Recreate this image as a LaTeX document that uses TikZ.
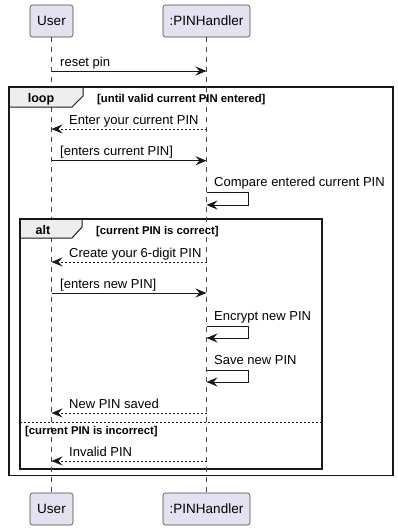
\documentclass[tikz,border=0pt]{standalone}
\usepackage{fontspec}
\setmainfont{Liberation Sans}
\usetikzlibrary{arrows.meta}
\definecolor{ink}{HTML}{181818}
\definecolor{partfill}{HTML}{E2E2F0}
\definecolor{tabfill}{HTML}{EEEEEE}
\begin{document}
\begin{tikzpicture}[x=1pt,y=-1pt,
  participant/.style={draw=ink!80, line width=0.6pt, fill=partfill, rounded corners=2.5pt,
    minimum height=32pt, inner sep=0pt, font=\fontsize{13.5}{15}\selectfont},
  lifeline/.style={draw=ink!80, line width=0.5pt, dash pattern=on 5pt off 5pt},
  msg/.style={draw=ink, line width=0.9pt, -{Stealth[length=11pt,width=9pt,inset=4pt]}},
  reply/.style={msg, dash pattern=on 2pt off 2pt},
  frame/.style={draw=ink, line width=1.4pt},
  tab/.style={draw=ink, line width=1pt, fill=tabfill},
  msgtext/.style={anchor=base west, inner sep=0pt, font=\fontsize{13}{15}\selectfont},
  guard/.style={anchor=base west, inner sep=0pt, font=\fontsize{11.3}{13}\selectfont\bfseries},
  kw/.style={anchor=base, inner sep=0pt, font=\fontsize{12.5}{14}\selectfont\bfseries}]
\useasboundingbox (0,0) rectangle (398,530);
\fill[white] (0,0) rectangle (398,530);

% participants, top and bottom
\node[participant, minimum width=43pt] (userTop) at (51.5,21) {User};
\node[participant, minimum width=87pt] (pinTop) at (206.5,21) {:PINHandler};
\node[participant, minimum width=43pt] (userBot) at (51.5,509) {User};
\node[participant, minimum width=87pt] (pinBot) at (206.5,509) {:PINHandler};

% lifeline anchor points for each message
\foreach \n/\y in {a/71, b/129, c/160.7, d/262, e/293, f/413, g/461}{
  \coordinate (u\n) at (51.5,\y);
  \coordinate (p\n) at (206.5,\y);
}
\foreach \n/\ya/\yb in {s1/192/205, s2/326/338, s3/370/382}{
  \coordinate (\n a) at (206.5,\ya);
  \coordinate (\n b) at (206.5,\yb);
}

% fragment borders
\draw[frame] (9,87) rectangle (393,475.5);
\draw[frame] (20,219) rectangle (322,469);
\draw[draw=ink, line width=0.6pt, dash pattern=on 2pt off 2pt] (20,422) -- (322,422);

% lifelines
\draw[lifeline] (userTop.south) -- (userBot.north);
\draw[lifeline] (pinTop.south) -- (pinBot.north);

% fragment tabs and guards
\draw[tab] (9,87) -- (83,87) -- (83,96) -- (72,107) -- (9,107) -- cycle;
\draw[frame] (9,87) -- (83,87);
\draw[frame] (9,87) -- (9,107);
\node[kw] (loopkw) at (41,102) {loop};
\node[guard] (loopguard) at (97,102) {[until valid current PIN entered]};

\draw[tab] (20,219) -- (82,219) -- (82,227) -- (72,238) -- (20,238) -- cycle;
\draw[frame] (20,219) -- (82,219);
\draw[frame] (20,219) -- (20,238);
\node[kw] (altkw) at (43,234) {alt};
\node[guard] (altguard) at (96,234) {[current PIN is correct]};
\node[guard] (elseguard) at (25,434.5) {[current PIN is incorrect]};

% messages
\draw[msg] (ua) -- (pa);
\node[msgtext] (ta) at (60,66) {reset pin};

\draw[reply] (pb) -- (ub);
\node[msgtext] (tb) at (69,124) {Enter your current PIN};

\draw[msg] (uc) -- (pc);
\node[msgtext] (tc) at (60,155.7) {[enters current PIN]};

\draw[msg] (s1a) -- ++(41.5,0) |- (s1b);
\node[msgtext] (ts1) at (214,186.5) {Compare entered current PIN};

\draw[reply] (pd) -- (ud);
\node[msgtext] (td) at (69,257) {Create your 6-digit PIN};

\draw[msg] (ue) -- (pe);
\node[msgtext] (te) at (60,288) {[enters new PIN]};

\draw[msg] (s2a) -- ++(41.5,0) |- (s2b);
\node[msgtext] (ts2) at (214,320.5) {Encrypt new PIN};

\draw[msg] (s3a) -- ++(41.5,0) |- (s3b);
\node[msgtext] (ts3) at (214,364.5) {Save new PIN};

\draw[reply] (pf) -- (uf);
\node[msgtext] (tf) at (69,408) {New PIN saved};

\draw[reply] (pg) -- (ug);
\node[msgtext] (tg) at (69,456) {Invalid PIN};
\end{tikzpicture}
\end{document}
